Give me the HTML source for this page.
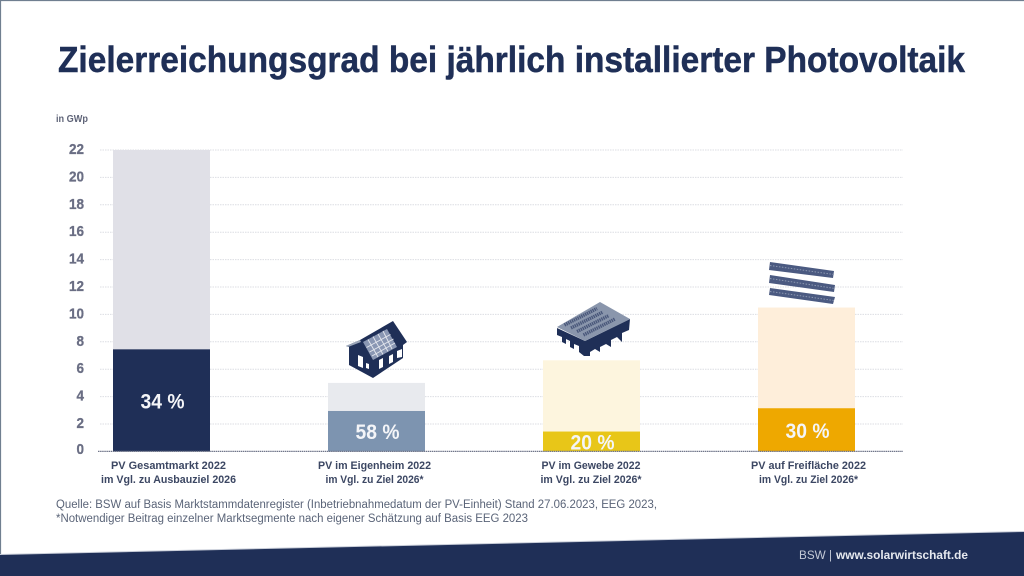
<!DOCTYPE html>
<html lang="de">
<head>
<meta charset="utf-8">
<title>Zielerreichungsgrad bei jährlich installierter Photovoltaik</title>
<style>
html,body{margin:0;padding:0;background:#fff;}
svg{display:block;font-family:"Liberation Sans",sans-serif;}
</style>
</head>
<body>
<svg id="chart" xmlns="http://www.w3.org/2000/svg" width="1024" height="576" viewBox="0 0 1024 576">
  <rect width="1024" height="576" fill="#fff"/>
  <path d="M0.5 576V0.5H1024" fill="none" stroke="#707f90" stroke-width="1.2"/>
  <text x="58" y="72" font-size="36" font-weight="700" fill="#1f2f57" stroke="#1f2f57" stroke-width="0.5" textLength="907" lengthAdjust="spacingAndGlyphs">Zielerreichungsgrad bei jährlich installierter Photovoltaik</text>
  <text x="56" y="122" font-size="10" font-weight="700" fill="#5f6478" textLength="32" lengthAdjust="spacingAndGlyphs">in GWp</text>

  <g id="grid"></g>
  <g id="ticks"></g>
  <g id="bars"></g>
  <g id="baseline"></g>

  <g>
    <polygon points="346,346 360,340 393,321 407,342 403,345 403,358 373,378 349,365 349,347" fill="#1f2f57"/>
    <polygon points="346,346 360,340 361,342 348,347" fill="#9aa5b8"/>
    <polygon points="363,342 387,329 397,347 373,360" fill="#8a97b3"/>
    <path d="M366.5 347.5L390.5 334.5M369.5 352L393.5 339M372 356L395 343M368 339.5L378 357M373 336.5L383 354.5M378 334L388 351.5M383 331L392 349" stroke="#e4e7ee" stroke-width="0.9" fill="none"/>
    <polygon points="358,355 363,357 363,368 358,366" fill="#fff"/>
    <polygon points="366,363 369,364 369,369 366,368" fill="#fff"/>
    <polygon points="379,360 383,358 383,367 379,369" fill="#fff"/>
    <polygon points="389,356 393,354 393,362 389,364" fill="#fff"/>
    <polygon points="397,351 402,349 402,357 397,358" fill="#fff"/>
  </g>

  <g>
    <polygon points="557,328 585,341 630,319 629,330 622,333 622,342 617,337 611,340 611,347 606,344 600,347 600,352 595,349 590,352 590,356 584,356 579,352 579,346 574,344 574,349 570,347 570,341 566,339 566,344 562,342 562,337 557,335" fill="#1f2f57"/>
    <polygon points="600,302 630,319 585,341 557,327" fill="#8a96ac"/>
    <path d="M564.5 325L597 308.500M571 328L603 312M577 331.500L609 315.500M583.500 335L615 319" stroke="#49577a" stroke-width="3.4" stroke-dasharray="1.4 0.7" fill="none"/>
  </g>

  <g>
    <polygon points="770,262 834,271 833,278 769,270" fill="#4b5a81"/>
    <polygon points="770,275 835,285 834,292 769,283" fill="#4b5a81"/>
    <polygon points="770,288 835,297 833,304 769,295" fill="#4b5a81"/>
    <path d="M770 265.500L834 274.500M770 278.500L835 288.500M770 291.500L834 300.500" stroke="#8b97b0" stroke-width="1" stroke-dasharray="1.5 1.5" fill="none"/>
  </g>

  <g id="labels"></g>

  <text x="56" y="508" font-size="11.5" fill="#5a6478" textLength="601" lengthAdjust="spacingAndGlyphs">Quelle: BSW auf Basis Marktstammdatenregister (Inbetriebnahmedatum der PV-Einheit) Stand 27.06.2023, EEG 2023,</text>
  <text x="56" y="522" font-size="11.5" fill="#5a6478" textLength="472" lengthAdjust="spacingAndGlyphs">*Notwendiger Beitrag einzelner Marktsegmente nach eigener Schätzung auf Basis EEG 2023</text>

  <polygon points="0,554 1024,531 1024,533 0,556" fill="#c9ced9"/>
  <polygon points="0,555 1024,532 1024,576 0,576" fill="#1f2f57"/>
  <text x="799" y="559" font-size="11.5" fill="#c3c9d6" textLength="33" lengthAdjust="spacingAndGlyphs">BSW |</text>
  <text x="836" y="559" font-size="11.5" font-weight="700" fill="#e6e9ef" textLength="132" lengthAdjust="spacingAndGlyphs">www.solarwirtschaft.de</text>
</svg>
<script>
var yTicks = [0, 2, 4, 6, 8, 10, 12, 14, 16, 18, 20, 22];
var targetValues = [22, 5, 6.65, 10.5];
var achievedValues = [7.45, 2.95, 1.45, 3.15];
var percentLabels = ['34 %', '58 %', '20 %', '30 %'];
var labelLine1 = ['PV Gesamtmarkt 2022', 'PV im Eigenheim 2022', 'PV im Gewebe 2022', 'PV auf Freifläche 2022'];
var labelLine2 = ['im Vgl. zu Ausbauziel 2026', 'im Vgl. zu Ziel 2026*', 'im Vgl. zu Ziel 2026*', 'im Vgl. zu Ziel 2026*'];

var NS = 'http://www.w3.org/2000/svg';
var targetColors = ['#e0e0e7', '#e8eaee', '#fdf5de', '#feeeda'];
var achievedColors = ['#1f2f57', '#7d94b0', '#e8c618', '#eea800'];
var barWidth = 97;
var y0 = 451.4;
var yUnit = 13.7;
var xStart = 113;
var xStep = 215;

function yScale(v) { return y0 - v * yUnit; }
function xScale(i) { return xStart + i * xStep; }
function make(tag, attrs, parent) {
  var el = document.createElementNS(NS, tag);
  for (var k in attrs) { el.setAttribute(k, attrs[k]); }
  parent.appendChild(el);
  return el;
}

var gridG = document.getElementById('grid');
var ticksG = document.getElementById('ticks');
yTicks.forEach(function (t) {
  if (t > 0) {
    var line = make('line', { x1: 100, x2: 903, y1: yScale(t), y2: yScale(t), stroke: '#dcdee3', 'stroke-width': 1, 'stroke-dasharray': '1.5 1' }, gridG);
    
    
  }
  var label = make('text', {
    x: 84,
    y: yScale(t) + (t === 0 ? 2.5 : 4),
    'text-anchor': 'end',
    'font-size': 15,
    'font-weight': 700,
    fill: '#6a6e84',
    stroke: '#6a6e84',
    'stroke-width': 0.3,
    textLength: t >= 10 ? 15 : 7.5,
    lengthAdjust: 'spacingAndGlyphs'
  }, ticksG);
  label.textContent = String(t);
  
  
});

var barsG = document.getElementById('bars');
targetValues.forEach(function (v, i) {
  var target = make('rect', { x: xScale(i), y: yScale(v), width: barWidth, height: y0 - yScale(v), fill: targetColors[i] }, barsG);
  
  
  var achieved = make('rect', { x: xScale(i), y: yScale(achievedValues[i]), width: barWidth, height: y0 - yScale(achievedValues[i]), fill: achievedColors[i] }, barsG);
  
  
  var pct = make('text', {
    x: xScale(i) + barWidth / 2 + 1,
    y: (yScale(achievedValues[i]) + y0) / 2 + 8,
    'text-anchor': 'middle',
    'font-size': 21,
    'font-weight': 700,
    fill: '#f4f5f8',
    textLength: 44,
    lengthAdjust: 'spacingAndGlyphs'
  }, barsG);
  pct.textContent = percentLabels[i];
  
  
});

var baselineG = document.getElementById('baseline');
var axisLine = make('line', { x1: 98, x2: 903, y1: y0, y2: y0, stroke: '#70768a', 'stroke-width': 1.2, 'stroke-dasharray': '1.5 0.6' }, baselineG);



var labelsG = document.getElementById('labels');
var labelCenters = [168.5, 374.5, 591, 808.5];
var line1Widths = [115, 113, 99, 115];
var line2Widths = [135, 98, 101, 99];
labelLine1.forEach(function (txt, i) {
  var a = make('text', { x: labelCenters[i], y: 469, 'text-anchor': 'middle', 'font-size': 11, 'font-weight': 700, fill: '#3c4763', textLength: line1Widths[i], lengthAdjust: 'spacingAndGlyphs' }, labelsG);
  a.textContent = txt;
  
  
  var b = make('text', { x: labelCenters[i], y: 483, 'text-anchor': 'middle', 'font-size': 11, 'font-weight': 700, fill: '#3c4763', textLength: line2Widths[i], lengthAdjust: 'spacingAndGlyphs' }, labelsG);
  b.textContent = labelLine2[i];
  
  
});
</script>
</body>
</html>
